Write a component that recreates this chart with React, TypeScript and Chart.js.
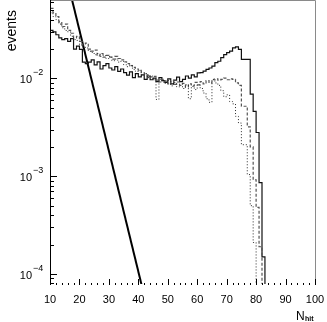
import React, { useEffect, useRef } from 'react';
import { Chart, registerables } from 'chart.js';

Chart.register(...registerables);

// Histogram bin lower edges (N_hit), bin width 1
const binEdges = [10, 11, 12, 13, 14, 15, 16, 17, 18, 19, 20, 21, 22, 23, 24, 25, 26, 27, 28, 29,
  30, 31, 32, 33, 34, 35, 36, 37, 38, 39, 40, 41, 42, 43, 44, 45, 46, 47, 48, 49,
  50, 51, 52, 53, 54, 55, 56, 57, 58, 59, 60, 61, 62, 63, 64, 65, 66, 67, 68, 69,
  70, 71, 72, 73, 74, 75, 76, 77, 78, 79, 80, 81, 82, 83];

// Solid histogram (bins 10..83)
const solidValues = [0.032, 0.031, 0.030, 0.028, 0.026, 0.025, 0.0255, 0.024, 0.0255, 0.020,
  0.0214, 0.0198, 0.0147, 0.0142, 0.0147, 0.0155, 0.0138, 0.0148, 0.0125, 0.0135,
  0.0142, 0.0128, 0.0122, 0.0132, 0.0118, 0.0125, 0.0115, 0.0108, 0.0117, 0.0102,
  0.0112, 0.0104, 0.0109, 0.0098, 0.0106, 0.0097, 0.0101, 0.0093, 0.0102, 0.0095,
  0.0091, 0.0099, 0.0088, 0.0096, 0.0103, 0.0093, 0.0098, 0.0106, 0.0101, 0.0109,
  0.0104, 0.0114, 0.0115, 0.0119, 0.0124, 0.0128, 0.0134, 0.0145, 0.015, 0.0163,
  0.0175, 0.0184, 0.019, 0.0206, 0.021, 0.0198, 0.0157, 0.0157, 0.0157, 0.0069,
  0.0046, 0.0028, 0.00086, 0.00015];

// Dashed histogram (bins 10..82)
const dashedValues = [0.058, 0.052, 0.047, 0.043, 0.038, 0.034, 0.036, 0.031, 0.029, 0.026,
  0.027, 0.024, 0.022, 0.023, 0.020, 0.019, 0.0195, 0.017, 0.018, 0.0165,
  0.0172, 0.0165, 0.0158, 0.0168, 0.016, 0.0155, 0.0148, 0.0142, 0.0135, 0.013,
  0.0125, 0.0121, 0.0115, 0.0112, 0.0108, 0.0104, 0.0105, 0.0096, 0.0092, 0.0098,
  0.0094, 0.0088, 0.0095, 0.0087, 0.0092, 0.0085, 0.0089, 0.0082, 0.0088, 0.0084,
  0.0091, 0.0086, 0.0093, 0.0088, 0.0095, 0.009, 0.0097, 0.0099, 0.0096, 0.0098,
  0.0101, 0.0097, 0.0099, 0.0098, 0.009, 0.0085, 0.0052, 0.0052, 0.0032, 0.002,
  0.00092, 0.00048, 0.00019];

// Dotted histogram (bins 10..80)
const dottedValues = [0.050, 0.047, 0.043, 0.040, 0.036, 0.033, 0.031, 0.030, 0.027, 0.025,
  0.0245, 0.022, 0.021, 0.0205, 0.019, 0.0185, 0.0175, 0.018, 0.0168, 0.0172,
  0.016, 0.0168, 0.0152, 0.0158, 0.0147, 0.015, 0.0138, 0.0132, 0.0136, 0.0124,
  0.0118, 0.0121, 0.0109, 0.0112, 0.0102, 0.0106, 0.0097, 0.0061, 0.0098, 0.0092,
  0.0089, 0.0095, 0.0084, 0.0091, 0.0082, 0.0088, 0.0079, 0.0086, 0.0062, 0.0083,
  0.0077, 0.0086, 0.0079, 0.0071, 0.0062, 0.0057, 0.0098, 0.009, 0.0085, 0.0075,
  0.0065, 0.0068, 0.0058, 0.0055, 0.0041, 0.0035, 0.0021, 0.0021, 0.00104, 0.0005,
  0.00021];

// Steep straight line (exponential)
const lineX = [17, 42];
const lineY = [0.0731, 0.00006];

const xTickLabels = ['10', '20', '30', '40', '50', '60', '70', '80', '90', '100'];
const yTickExponents = [-4, -3, -2];

const X_MIN = 10;
const X_MAX = 100;
const Y_MIN = 7.9e-5;
const Y_MAX = 0.062;
const FLOOR = 1e-7;

function histPoints(values: number[]) {
  const pts = values.map((v, i) => ({ x: binEdges[i], y: v }));
  pts.push({ x: binEdges[values.length - 1] + 1, y: FLOOR });
  return pts;
}

const FONT = "'Liberation Sans', Arial, Helvetica, sans-serif";

const decorPlugin = {
  id: 'decor',
  afterDatasetsDraw(chart: any) {
    const ctx = chart.ctx as CanvasRenderingContext2D;
    const { left, right, top, bottom } = chart.chartArea;
    const xs = chart.scales.x;
    const ys = chart.scales.y;
    ctx.save();
    // gray frame (top & right)
    ctx.strokeStyle = '#8a8a8a';
    ctx.lineWidth = 1;
    ctx.beginPath();
    ctx.moveTo(left, top - 0.5);
    ctx.lineTo(right + 0.5, top - 0.5);
    ctx.lineTo(right + 0.5, bottom + 0.5);
    ctx.stroke();
    // left axis
    ctx.strokeStyle = '#000';
    ctx.beginPath();
    ctx.moveTo(left + 0.5, top - 1);
    ctx.lineTo(left + 0.5, bottom + 1);
    ctx.stroke();
    // y ticks
    ctx.beginPath();
    for (let e = -5; e <= -1; e++) {
      for (let k = 1; k <= 9; k++) {
        const v = k * Math.pow(10, e);
        if (v < Y_MIN || v > Y_MAX) continue;
        const py = Math.round(ys.getPixelForValue(v)) + 0.5;
        const len = k === 1 ? 7 : 4;
        ctx.moveTo(left, py);
        ctx.lineTo(left + len, py);
      }
    }
    ctx.stroke();
    // x ticks (pointing up from bottom)
    ctx.beginPath();
    for (let v = X_MIN; v <= X_MAX; v += 2) {
      const px = Math.round(xs.getPixelForValue(v)) + 0.5;
      const len = v % 10 === 0 ? 6 : 2;
      ctx.moveTo(px, bottom + 1);
      ctx.lineTo(px, bottom + 1 - len);
    }
    ctx.stroke();
    // x labels
    ctx.fillStyle = '#000';
    ctx.font = `11px ${FONT}`;
    ctx.textAlign = 'center';
    ctx.textBaseline = 'alphabetic';
    xTickLabels.forEach((t) => {
      const px = xs.getPixelForValue(Number(t));
      ctx.fillText(t, px, bottom + 19);
    });
    // y labels 10^e
    yTickExponents.forEach((e) => {
      const py = ys.getPixelForValue(Math.pow(10, e));
      ctx.font = `11px ${FONT}`;
      ctx.textAlign = 'right';
      ctx.fillText('10', left - 18, py + 5);
      ctx.font = `9px ${FONT}`;
      ctx.textAlign = 'left';
      ctx.fillText('\u2212' + String(-e), left - 17, py - 3);
    });
    // axis titles
    ctx.font = `12px ${FONT}`;
    ctx.textAlign = 'left';
    ctx.fillText('N', 296, 320);
    ctx.font = `bold 7px ${FONT}`;
    ctx.fillText('hit', 305, 321);
    ctx.save();
    ctx.translate(16, 10);
    ctx.rotate(-Math.PI / 2);
    ctx.font = `14px ${FONT}`;
    ctx.textAlign = 'right';
    ctx.fillText('events', 0, 0);
    ctx.restore();
    ctx.restore();
  },
};

export default function App() {
  const ref = useRef<HTMLCanvasElement>(null);
  useEffect(() => {
    if (!ref.current) return;
    const common = {
      pointRadius: 0,
      fill: false,
      tension: 0,
      clip: 0,
    };
    const chart = new Chart(ref.current, {
      type: 'line',
      data: {
        datasets: [
          {
            ...common,
            data: histPoints(dottedValues),
            stepped: 'after',
            borderColor: '#2a2a2a',
            borderWidth: 1,
            borderDash: [1, 2],
          },
          {
            ...common,
            data: histPoints(dashedValues),
            stepped: 'after',
            borderColor: '#555',
            borderWidth: 1.2,
            borderDash: [3, 2],
          },
          {
            ...common,
            data: histPoints(solidValues),
            stepped: 'after',
            borderColor: '#111',
            borderWidth: 1.2,
          },
          {
            ...common,
            data: lineX.map((x, i) => ({ x, y: lineY[i] })),
            borderColor: '#000',
            borderWidth: 2,
          },
        ] as any,
      },
      options: {
        animation: false,
        responsive: false,
        maintainAspectRatio: false,
        devicePixelRatio: 1,
        layout: { padding: { left: 50, right: 12, top: 1, bottom: 38 } },
        plugins: { legend: { display: false }, tooltip: { enabled: false } },
        events: [],
        scales: {
          x: { type: 'linear', min: X_MIN, max: X_MAX, display: false },
          y: { type: 'logarithmic', min: Y_MIN, max: Y_MAX, display: false },
        },
      },
      plugins: [decorPlugin],
    });
    return () => chart.destroy();
  }, []);
  return (
    <div style={{ position: 'fixed', left: 0, top: 0, width: 327, height: 322, background: '#fff' }}>
      <canvas ref={ref} width={327} height={322} style={{ display: 'block' }} />
    </div>
  );
}
